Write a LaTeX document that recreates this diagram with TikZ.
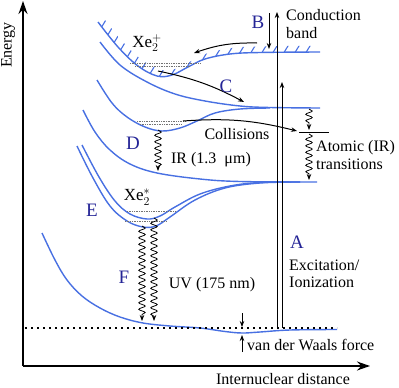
\documentclass[tikz,border=0pt]{standalone}
\usepackage{fontspec}
\setmainfont{Liberation Serif}
\usetikzlibrary{positioning, arrows.meta, decorations.pathmorphing}

\definecolor{pesblue}{RGB}{72,112,226}
\definecolor{tagblue}{RGB}{36,36,150}

\begin{document}
\begin{tikzpicture}[x=1pt, y=-1pt, >={Stealth[length=6pt, width=4.5pt]},
      font=\fontsize{16}{17.5}\selectfont,
      pes/.style={draw=pesblue, line width=1.4pt},
      hatch/.style={draw=pesblue, line width=1.1pt},
      lvl/.style={draw=black!55, densely dotted, line width=0.7pt},
      axis/.style={-{Stealth[length=13pt, width=9pt]}, line width=1.6pt},
      arr/.style={->, line width=1pt},
      wavy/.style={->, line width=0.8pt, decorate,
        decoration={snake, amplitude=3.2pt, segment length=6.5pt, post length=4pt}},
      tag/.style={text=tagblue, font=\fontsize{19}{20}\selectfont, inner sep=0pt},
      mol/.style={font=\fontsize{17}{18}\selectfont, inner sep=0pt},
      lbl/.style={align=left, inner sep=0pt}]
  \useasboundingbox (0,0) rectangle (399,388);

  % axes
  \coordinate (orig) at (23,366);
  \coordinate (ytip) at (23,1);
  \coordinate (xtip) at (370,366);
  \draw[axis] (orig) -- (ytip);
  \draw[axis] (orig) -- (xtip);
  \node[rotate=90] (ylab) at (8,45) {Energy};
  \node[inner sep=0pt] (xlab) at (283,379) {Internuclear distance};

  % hatching on the ionic curve
  \begin{scope}
    \clip plot[smooth, tension=0.6] coordinates {(98,22) (118,47) (138,66) (157,76) (172,75) (188,67) (205,59) (230,54) (260,52.5) (316,52)}
      -- plot[smooth, tension=0.6] coordinates {(319.8,45.8) (263.8,46.3) (233.8,47.8) (208.8,52.8) (191.8,60.8) (175.8,68.8) (160.8,69.8) (141.8,59.8) (121.8,40.8) (101.8,15.8)} -- cycle;
    \foreach \k in {0,...,26}
      \draw[hatch] (52+11*\k,90) -- ++(61.3,-100);
  \end{scope}

  % potential curves
  \draw[pes] plot[smooth, tension=0.6] coordinates {(98,22) (118,47) (138,66) (157,76) (172,75) (188,67) (205,59) (230,54) (260,52.5) (320,52)};
  \draw[pes] plot[smooth, tension=0.6] coordinates {(100,42) (120,65) (147,82) (175,94) (205,101) (240,106) (270,107.5) (320,108)};
  \draw[pes] plot[smooth, tension=0.6] coordinates {(97,80) (112,103) (127,117) (145,127) (162,131) (180,128) (197,121) (215,113) (240,109) (270,108)};
  \draw[pes] plot[smooth, tension=0.6] coordinates {(83,110) (95,132) (110,150) (130,164) (157,173) (200,179) (240,181.5) (317,182)};
  \draw[pes] plot[smooth, tension=0.6] coordinates {(77,146) (93,178) (110,206) (127,221) (143,227) (156,226) (170,217) (195,200) (225,188) (260,183) (300,182)};
  \draw[pes] plot[smooth, tension=0.6] coordinates {(82,145) (99,177) (115,201) (130,214) (147,219) (160,216) (175,207) (200,194) (230,186) (260,182.5) (300,182)};
  \draw[pes] plot[smooth, tension=0.6] coordinates {(42,233) (55,260) (67,280) (82,296) (100,308) (120,317) (143,323) (170,326) (200,328) (225,331.5) (242,333) (260,332) (290,330) (337,329.5)};

  % vibrational levels
  \draw[lvl] (130,63) -- (200,63);
  \draw[lvl] (135,66.5) -- (190,66.5);
  \draw[lvl] (137,121) -- (185,121);
  \draw[lvl] (140,124) -- (182,124);
  \draw[lvl] (127,211) -- (175,211);
  \draw[lvl] (125,221) -- (167,221);

  % ground level and atomic level
  \draw[line width=1.5pt, dash pattern=on 1.6pt off 4.4pt] (25,328) -- (337,328);
  \draw[line width=1pt] (299,132) -- (329,132);

  % excitation / ionization
  \coordinate (excL) at (277,328);
  \coordinate (ionT) at (277,12);
  \coordinate (excR) at (282,328);
  \coordinate (excT) at (282,82);
  \draw[arr] (excL) -- (ionT);
  \draw[arr] (excR) -- (excT);
  \node[tag] (tagA) at (297,242) {A};
  \node[lbl, anchor=west] (exclab) at (289,274) {Excitation/\\Ionization};

  % capture from conduction band
  \coordinate (capT) at (269,13);
  \coordinate (capB) at (269,49);
  \draw[arr] (capT) -- (capB);
  \node[tag] (tagB) at (258,22) {B};
  \node[lbl, anchor=west] (cband) at (286,24) {Conduction\\band};
  \coordinate (trapS) at (257,43);
  \coordinate (trapE) at (194,53);
  \draw[arr] (trapS) to[bend right=10] (trapE);
  \node[mol] (xeion) at (147,43) {Xe$_2^+$};

  % recombination
  \coordinate (recS) at (158,71);
  \coordinate (recE) at (244,102);
  \draw[arr] (recS) to[bend left=8] (recE);
  \node[tag] (tagC) at (226,86) {C};

  % collisions
  \coordinate (colS) at (183,121);
  \coordinate (colE) at (297,131);
  \draw[arr] (colS) to[bend left=9] (colE);
  \node (collab) at (237,134) {Collisions};
  \node[tag] (tagD) at (133,143) {D};

  % atomic IR transitions
  \coordinate (atU) at (309,109);
  \coordinate (atM) at (309,130);
  \coordinate (atL) at (309,134);
  \coordinate (atB) at (309,180);
  \draw[wavy] (atU) -- (atM);
  \draw[wavy] (atL) -- (atB);
  \node[lbl, anchor=west] (atlab) at (316,155) {Atomic (IR)\\transitions};

  % IR emission
  \coordinate (irS) at (158,130);
  \coordinate (irE) at (158,171);
  \draw[wavy] (irS) -- (irE);
  \node (irlab) at (211,160) {IR (1.3\enspace μm)};

  % excimer and UV emission
  \node[mol] (xeexc) at (137,197) {Xe$_2^*$};
  \node[tag] (tagE) at (92,210) {E};
  \coordinate (uv1S) at (142,226);
  \coordinate (uv1E) at (142,321);
  \coordinate (uv2S) at (154,218);
  \coordinate (uv2E) at (154,321);
  \draw[wavy] (uv1S) -- (uv1E);
  \draw[wavy] (uv2S) -- (uv2E);
  \node[tag] (tagF) at (124,277) {F};
  \node (uvlab) at (212,285) {UV (175 nm)};

  % van der Waals well depth
  \coordinate (vdwT) at (242,313);
  \coordinate (vdwTe) at (242,327);
  \coordinate (vdwB) at (242,352);
  \coordinate (vdwBe) at (242,335);
  \draw[->, line width=0.8pt] (vdwT) -- (vdwTe);
  \draw[->, line width=0.8pt] (vdwB) -- (vdwBe);
  \node[lbl, anchor=west] (vdwlab) at (247,345) {van der Waals force};
\end{tikzpicture}
\end{document}
